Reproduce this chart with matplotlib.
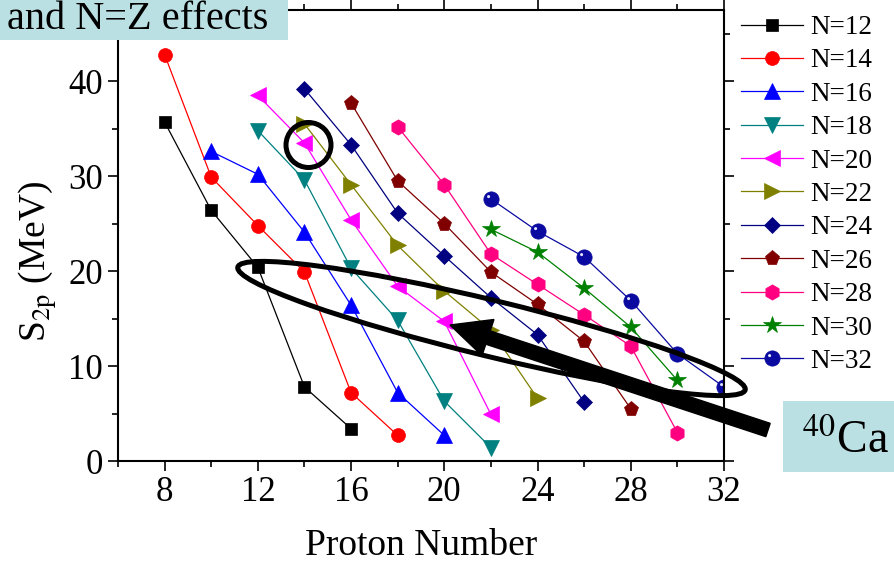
import numpy as np
import matplotlib
matplotlib.use("Agg")
import matplotlib.pyplot as plt
from matplotlib.patches import Ellipse, Circle, FancyArrow, Rectangle
from matplotlib.path import Path
from matplotlib.legend_handler import HandlerTuple

plt.rcParams['font.family'] = ['Liberation Serif', 'DejaVu Serif']
plt.rcParams['mathtext.fontset'] = 'stix'

# proton number (Z) and two-proton separation energy for each isotone chain
z_n12 = [8, 10, 12, 14, 16]
s_n12 = [35.7, 26.4, 20.4, 7.8, 3.4]
z_n14 = [8, 10, 12, 14, 16, 18]
s_n14 = [42.8, 29.9, 24.8, 19.9, 7.2, 2.7]
z_n16 = [10, 12, 14, 16, 18, 20]
s_n16 = [32.6, 30.2, 24.1, 16.4, 7.2, 2.7]
z_n18 = [12, 14, 16, 18, 20, 22]
s_n18 = [34.8, 29.6, 20.3, 14.8, 6.3, 1.4]
z_n20 = [12, 14, 16, 18, 20, 22]
s_n20 = [38.5, 33.5, 25.4, 18.4, 14.7, 4.9]
z_n22 = [14, 16, 18, 20, 22, 24]
s_n22 = [35.5, 29.1, 22.7, 17.9, 13.8, 6.6]
z_n24 = [14, 16, 18, 20, 22, 24, 26]
s_n24 = [39.2, 33.3, 26.1, 21.6, 17.2, 13.3, 6.2]
z_n26 = [16, 18, 20, 22, 24, 26, 28]
s_n26 = [37.7, 29.5, 25.0, 19.9, 16.5, 12.6, 5.5]
z_n28 = [18, 20, 22, 24, 26, 28, 30]
s_n28 = [35.2, 29.1, 21.8, 18.6, 15.4, 12.1, 3.0]
z_n30 = [22, 24, 26, 28, 30]
s_n30 = [24.4, 22.0, 18.2, 14.1, 8.5]
z_n32 = [22, 24, 26, 28, 30, 32]
s_n32 = [27.6, 24.2, 21.5, 16.9, 11.3, 7.8]

labels = ["N=12", "N=14", "N=16", "N=18", "N=20", "N=22",
          "N=24", "N=26", "N=28", "N=30", "N=32"]
zs = [z_n12, z_n14, z_n16, z_n18, z_n20, z_n22, z_n24, z_n26, z_n28, z_n30, z_n32]
ss = [s_n12, s_n14, s_n16, s_n18, s_n20, s_n22, s_n24, s_n26, s_n28, s_n30, s_n32]

colors = ["black", "#ff0000", "#0000ff", "#008080", "#ff00ff", "#808000",
          "#000080", "#800000", "#ff0080", "#008000", "#0a0aa0"]
markers = ["s", "o", "^", "v", "<", ">", "D", "p", "h", "*", "o"]
msizes = [9, 10, 11, 11, 11, 11, 8.5, 11, 11, 13, 11]

fig = plt.figure(figsize=(8.95, 5.67), dpi=100)
ax = fig.add_axes([118/895, 106/567, 606/895, 451/567])

handles = []
for z, s, c, m, ms in zip(zs, ss, colors, markers, msizes):
    line, = ax.plot(z, s, color=c, lw=0.9, marker=m, ms=ms, mfc=c, mec=c, mew=0.5)
    handles.append(line)

# little shine spot on the N=32 spheres
t = np.linspace(0, 2*np.pi, 30)
verts = [(1, 1)] + list(zip(-0.38 + 0.2*np.cos(t), 0.38 + 0.2*np.sin(t)))
codes = [Path.MOVETO, Path.MOVETO] + [Path.LINETO]*(len(t) - 2) + [Path.CLOSEPOLY]
shine = Path(verts, codes)
hl, = ax.plot(z_n32, s_n32, ls="none", marker=shine, ms=11, mfc="#e6e8ff", mec="none")
handles[-1] = (handles[-1], hl)

ax.set_xlim(6, 32)
ax.set_ylim(0, 47.5)
ax.set_xticks(range(8, 33, 4))
ax.set_xticks(range(6, 33, 2), minor=True)
ax.set_yticks(range(0, 41, 10))
ax.set_yticks(range(0, 48, 5), minor=True)
ax.tick_params(which="both", direction="out", top=True, right=True, width=1.2)
ax.tick_params(which="major", length=7, labelsize=25, pad=4)
ax.tick_params(which="minor", length=4)
for sp in ax.spines.values():
    sp.set_linewidth(1.5)

ax.set_xlabel("Proton Number", fontsize=27, labelpad=14)
ax.set_ylabel(r"S$_{\mathrm{2p}}$ (MeV)", fontsize=27)
ax.yaxis.set_label_coords(-0.097, 0.443)

fig.legend(handles, labels, loc="upper left", bbox_to_anchor=(741/895, 1 - 15/567),
           frameon=False, fontsize=19.5, handlelength=2.3, handletextpad=0.25,
           labelspacing=0.31, borderpad=0, borderaxespad=0,
           handler_map={tuple: HandlerTuple(ndivide=1)})

# annotations, placed in figure pixels (y measured from the top)
tr = fig.dpi_scale_trans
def px(x, y):
    return x/100, (567 - y)/100

box_c = "#bbe0e3"
fig.add_artist(Rectangle(px(0, 40), 2.88, 0.40, facecolor=box_c, edgecolor="none", transform=tr))
fig.text(*px(268, 29), "and N=Z effects", transform=tr, ha="right", va="baseline", fontsize=29)

fig.add_artist(Rectangle(px(783, 472), 1.12, 0.71, facecolor=box_c, edgecolor="none", transform=tr))
fig.text(*px(802, 453), r"$^{40}$Ca", transform=tr, ha="left", va="baseline", fontsize=33)

fig.add_artist(Ellipse(px(491.5, 328.5), 5.22, 0.56, angle=-13.6, fill=False,
                       edgecolor="black", lw=3.6, transform=tr))
fig.add_artist(Circle(px(308.5, 145), 0.225, fill=False, edgecolor="black", lw=3.6, transform=tr))
fig.add_artist(FancyArrow(7.68, 1.37, -3.18, 1.05, width=0.14, head_width=0.38,
                          head_length=0.40, length_includes_head=True,
                          color="black", transform=tr))

fig.savefig("out.png", dpi=100)
